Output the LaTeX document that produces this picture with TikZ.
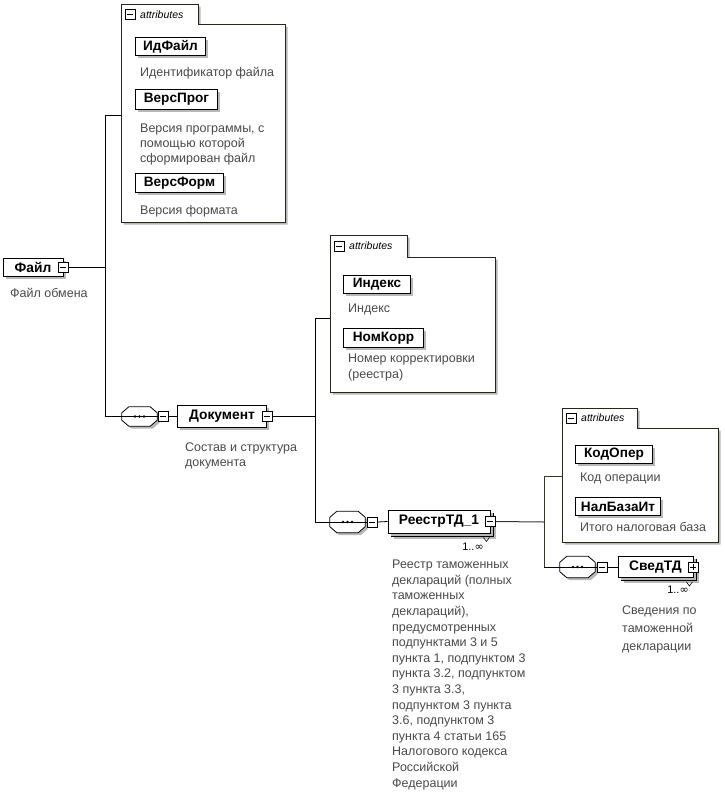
\documentclass[tikz,border=0pt]{standalone}
\usepackage{fontspec}
\setmainfont{Liberation Sans}
\newfontfamily\symfont{DejaVu Sans}
\usetikzlibrary{shadows}
\definecolor{boxc}{HTML}{26261C}
\definecolor{desctext}{HTML}{4A4A4A}
\definecolor{olive}{HTML}{38382A}
\tikzset{
  ln/.style={draw=black, line width=0.8pt},
  oln/.style={draw=olive, line width=1pt},
  shad/.style={drop shadow={shadow xshift=2.5pt, shadow yshift=-2.5pt, fill=black!28, opacity=1}},
  abox/.style={draw=boxc, line width=1pt, fill=white, shad},
  attr/.style={draw=black, line width=1pt, fill=white, inner sep=0pt, anchor=north west,
    font=\bfseries\fontsize{13.6}{15}\selectfont, shad},
  elem/.style={draw=black, line width=0.9pt, fill=white, inner sep=0pt,
    font=\bfseries\fontsize{13.8}{15}\selectfont, shad},
  elemback/.style={draw=black, line width=0.9pt, fill=white, inner sep=0pt, shad},
  desc/.style={anchor=base west, align=left, inner sep=0pt, text=desctext,
    font=\fontsize{12.5}{15}\selectfont},
  expm/.style={draw=black, line width=0.7pt, fill=white, minimum size=10pt, inner sep=0pt,
    path picture={\draw[line width=0.7pt] ([xshift=-3pt]path picture bounding box.center) -- ([xshift=3pt]path picture bounding box.center);}},
  expp/.style={expm, path picture={\draw[line width=0.7pt] ([xshift=-3pt]path picture bounding box.center) -- ([xshift=3pt]path picture bounding box.center);
    \draw[line width=0.7pt] ([yshift=-3pt]path picture bounding box.center) -- ([yshift=3pt]path picture bounding box.center);}},
  seq/.style={draw=none, minimum width=35pt, minimum height=19pt, inner sep=0pt},
  seqline/.style={draw=black, line width=0.8pt, fill=white, shad},
  tabtxt/.style={anchor=west, inner sep=0pt, font=\itshape\fontsize{10.5}{12}\selectfont},
  mult/.style={anchor=center, inner sep=0pt, font=\fontsize{11}{12}\selectfont},
}
\newcommand\seqshape[1]{%
  \path[seqline] ([xshift=7pt]#1.north west) -- ([xshift=-7pt]#1.north east)
    -- ([yshift=-6pt]#1.north east) -- ([yshift=6pt]#1.south east)
    -- ([xshift=-7pt]#1.south east) -- ([xshift=7pt]#1.south west)
    -- ([yshift=6pt]#1.south west) -- ([yshift=-6pt]#1.north west) -- cycle;
  \draw[line width=0.9pt] (#1.west) -- (#1.east);
  \foreach \dx in {-4.5,0,4.5}{\fill ([xshift=\dx pt]#1.center) circle (1.4pt);}%
}
\begin{document}
\begin{tikzpicture}[x=1pt,y=-1pt]
\useasboundingbox[fill=white] (0,0) rectangle (724,793);

% ---------- attribute group 1 ----------
\path[abox] (121,4) -- (198,4) -- (198,24) -- (285,24) -- (285,222) -- (121,222) -- cycle;
\node[expm] (tab1x) at (130,14.5) {};
\node[tabtxt] (tab1t) at (140,14.5) {attributes};
\node[attr, minimum width=70pt, minimum height=18pt] (idf) at (135,37) {ИдФайл};
\node[desc] (didf) at (140,76) {Идентификатор файла};
\node[attr, minimum width=82pt, minimum height=20pt] (vp) at (135,89) {ВерсПрог};
\node[desc] (dvp) at (140,162) {Версия программы, с\\помощью которой\\сформирован файл};
\node[attr, minimum width=88pt, minimum height=19pt] (vf) at (135,173) {ВерсФорм};
\node[desc] (dvf) at (140,214) {Версия формата};

% ---------- root ----------
\node[elem, minimum width=60pt, minimum height=18pt] (fajl) at (33,267) {Файл\hspace{4pt}};
\node[expm] (fajlx) at (fajl.east) {};
\node[desc] (dfajl) at (10,297) {Файл обмена};

% ---------- Документ ----------
\node[seq] (seq1) at (139.5,416.5) {};
\seqshape{seq1}
\node[expm] (seq1x) at (163,416.5) {};
\node[elem, minimum width=89pt, minimum height=22pt] (dok) at (222,416.5) {Документ\hspace{4pt}};
\node[expm] (dokx) at (dok.east) {};
\node[desc] (ddok) at (185,466) {Состав и структура\\документа};

% ---------- attribute group 2 ----------
\path[abox] (330,235) -- (407,235) -- (407,257) -- (495,257) -- (495,392) -- (330,392) -- cycle;
\node[expm] (tab2x) at (339,246) {};
\node[tabtxt] (tab2t) at (349,246) {attributes};
\node[attr, minimum width=67pt, minimum height=18pt] (ind) at (343,275) {Индекс};
\node[desc] (dind) at (348,312) {Индекс};
\node[attr, minimum width=80pt, minimum height=19pt] (nk) at (343,328) {НомКорр};
\node[desc, font=\fontsize{12.5}{16.5}\selectfont] (dnk) at (348,378.5) {Номер корректировки\\(реестра)};

% ---------- РеестрТД_1 ----------
\node[seq, minimum height=21pt] (seq2) at (347.5,522) {};
\seqshape{seq2}
\node[expm] (seq2x) at (372,522) {};
\node[elemback, minimum width=102pt, minimum height=23pt] (r1b) at (442,524.5) {};
\node[elem, minimum width=102pt, minimum height=23pt] (r1) at (439,521.5) {РеестрТД\_1\hspace{4pt}};
\node[expm] (r1x) at (r1.east) {};
\draw[line width=0.6pt] ([xshift=-4pt,yshift=-1pt]r1b.south east) -- ++(-3,4) -- ++(-3,-4);
\node[mult] (r1m) at (473,547) {1..{\symfont ∞}};
\node[desc, font=\fontsize{12.5}{15.6}\selectfont] (dr1) at (392,787) {Реестр таможенных\\деклараций (полных\\таможенных\\деклараций),\\предусмотренных\\подпунктами 3 и 5\\пункта 1, подпунктом 3\\пункта 3.2, подпунктом\\3 пункта 3.3,\\подпунктом 3 пункта\\3.6, подпунктом 3\\пункта 4 статьи 165\\Налогового кодекса\\Российской\\Федерации};

% ---------- attribute group 3 ----------
\path[abox] (562,408) -- (637,408) -- (637,428) -- (718,428) -- (718,542) -- (562,542) -- cycle;
\node[expm] (tab3x) at (571,418) {};
\node[tabtxt] (tab3t) at (581,418) {attributes};
\node[attr, minimum width=77pt, minimum height=18pt] (ko) at (575,445) {КодОпер};
\node[desc] (dko) at (580,481) {Код операции};
\node[attr, minimum width=85pt, minimum height=18pt] (nb) at (575,497) {НалБазаИт};
\node[desc] (dnb) at (580,531) {Итого налоговая база};

% ---------- СведТД ----------
\node[seq, minimum height=21pt] (seq3) at (577.5,567) {};
\seqshape{seq3}
\node[expm] (seq3x) at (602,567) {};
\node[elemback, minimum width=75pt, minimum height=21pt] (svb) at (658.5,570) {};
\node[elem, minimum width=75pt, minimum height=21pt] (sv) at (655.5,567) {СведТД\hspace{4pt}};
\node[expp] (svx) at (sv.east) {};
\draw[line width=0.6pt] ([xshift=-4pt,yshift=-1pt]svb.south east) -- ++(-3,4) -- ++(-3,-4);
\node[mult] (svm) at (678,590) {1..{\symfont ∞}};
\node[desc, font=\fontsize{12.5}{18}\selectfont] (dsv) at (622,650) {Сведения по\\таможенной\\декларации};

% ---------- connectors ----------
\coordinate (j1) at (105,267);
\coordinate (j1t) at (105,115);
\coordinate (j1b) at (105,416.5);
\coordinate (g1) at (121,115);
\draw[ln] (fajlx.east) -- (j1);
\draw[ln] (j1t) -- (j1b);
\draw[ln] (j1t) -- (g1);
\draw[ln] (j1b) -- (seq1.west);
\draw[ln] (seq1.east) -- (seq1x.west);
\draw[ln] (seq1x.east) -- (dok.west);

\coordinate (j2) at (315,416.5);
\coordinate (j2t) at (315,318);
\coordinate (j2b) at (315,522);
\coordinate (g2) at (330,318);
\draw[ln] (dokx.east) -- (j2);
\draw[ln] (j2t) -- (j2b);
\draw[ln] (j2t) -- (g2);
\draw[ln] (j2b) -- (seq2.west);
\draw[ln] (seq2.east) -- (seq2x.west);
\draw[ln] (seq2x.east) -- (r1.west);

\coordinate (j3) at (544,522);
\coordinate (j3t) at (544,476);
\coordinate (j3b) at (544,567);
\coordinate (g3) at (562,476);
\draw[oln] (r1x.east) -- (j3);
\draw[oln] (j3t) -- (j3b);
\draw[oln] (j3t) -- (g3);
\draw[ln] (j3b) -- (seq3.west);
\draw[ln] (seq3.east) -- (seq3x.west);
\draw[ln] (seq3x.east) -- (sv.west);
\end{tikzpicture}
\end{document}
